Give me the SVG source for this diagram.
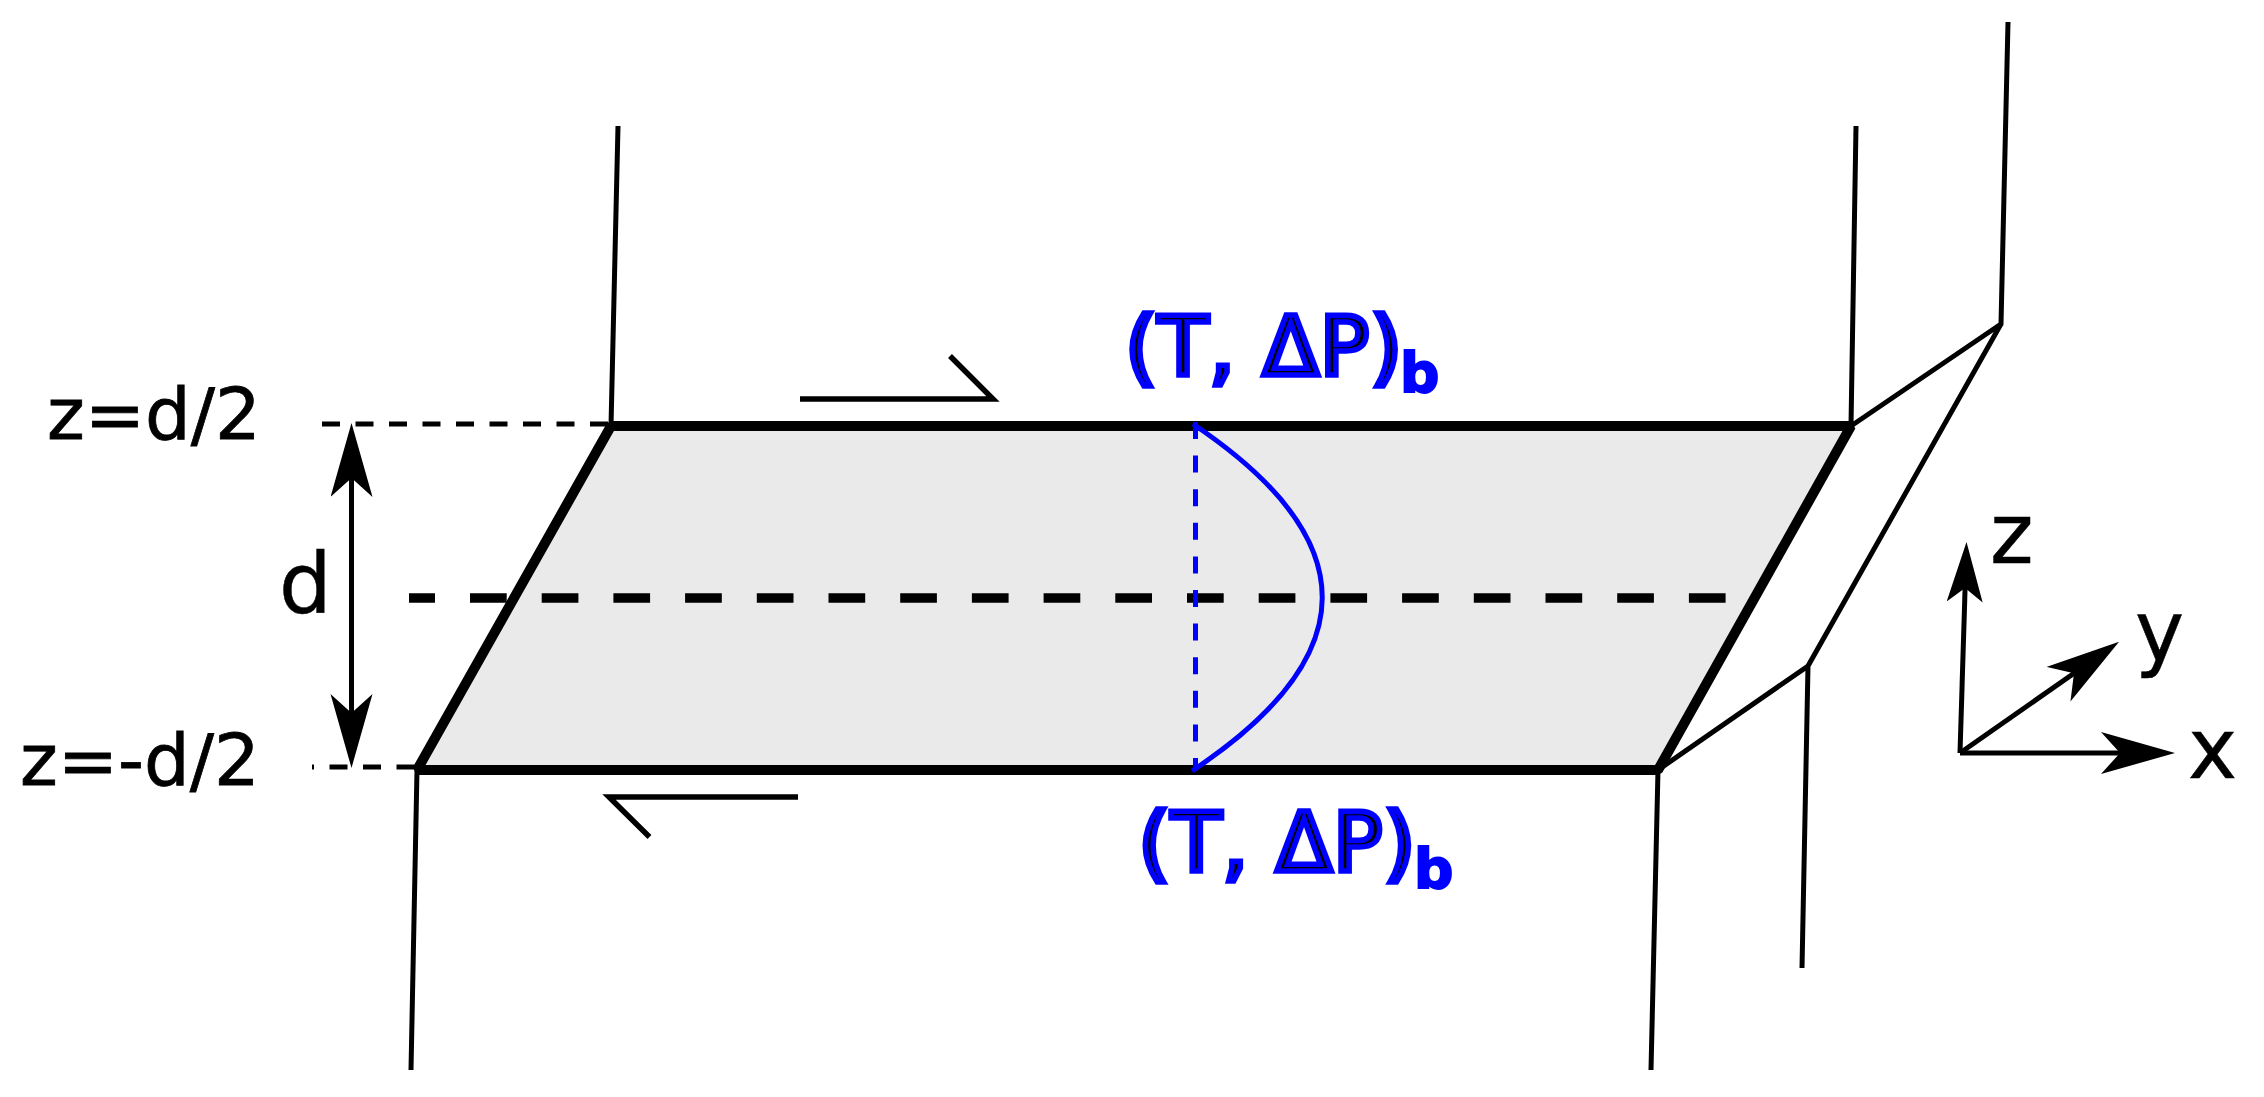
<svg xmlns="http://www.w3.org/2000/svg" width="2264" height="1097" viewBox="0 0 2264 1097">
<style>
text{font-family:"DejaVu Sans",sans-serif;fill:#000}
.lab{font-size:72px;stroke:#000;stroke-width:.8px}
.big{font-size:83px;stroke:#000;stroke-width:.5px}
.bl{font-size:82px;stroke:#00f;stroke-width:5.6px;letter-spacing:.9px}
.sub{font-size:55px;font-weight:bold;fill:#00f;stroke:#00f;stroke-width:2px}
.thin{fill:none;stroke:#000;stroke-width:5}
.half{fill:none;stroke:#000;stroke-width:5.5}
.thick{fill:none;stroke:#000;stroke-width:10;stroke-linejoin:bevel}
.dot{fill:none;stroke:#000;stroke-width:5;stroke-dasharray:18 15.5}
.blue{fill:none;stroke:#00f;stroke-width:5}
</style>
<defs>
<marker id="ah" markerUnits="userSpaceOnUse" markerWidth="80" markerHeight="50" refX="30" refY="21" orient="auto-start-reverse" viewBox="0 0 80 50"><path d="M74 21L0 0L19 21L0 42Z" fill="#000"/></marker>
<marker id="az" markerUnits="userSpaceOnUse" markerWidth="70" markerHeight="40" refX="24" refY="18" orient="auto" viewBox="0 0 70 40"><path d="M60 18L0 0L14 18L0 36Z" fill="#000"/></marker>
</defs>
<g id="plate">
<path d="M611 426H1851L1658 770H417Z" fill="#eaeaea"/>
</g>
<g id="connectors">
<path class="thin" d="M618 126L611 426M1856 126L1851 426M2008 22L2001 324L1851 426M2001 324L1808 666L1658 770M1808 666L1802 968M417 770L411 1070M1658 770L1651 1070"/>
<path class="thick" d="M611 426H1851L1658 770H417Z"/>
<path d="M409 598H1728" fill="none" stroke="#000" stroke-width="9.6" stroke-dasharray="36.7 35" stroke-dashoffset="10.7"/>
<path class="dot" d="M322 424H611"/>
<path class="dot" d="M312 767H417" stroke-dashoffset="16"/>
<path class="thin" d="M351.500 467V724" marker-start="url(#ah)" marker-end="url(#ah)"/>
<path class="half" d="M800 399H993L950 356M798 797H609L649.500 837"/>
<path class="blue" d="M1195.500 422V771" stroke-dasharray="17 16.600"/>
<path class="blue" d="M1193 424Q1452 598 1192 771"/>
<path class="thin" d="M1960 753L1965.400 578" marker-end="url(#az)"/>
<path class="thin" d="M1960 753L2083 667" marker-end="url(#ah)"/>
<path class="thin" d="M1960 753L2131 753" marker-end="url(#ah)"/>
</g>
<g id="labels">
<text class="lab" x="47" y="439">z=d/2</text>
<text class="lab" x="20" y="785">z=-d/2</text>
<text class="big" x="279" y="613">d</text>
<text class="big" x="1990" y="563">z</text>
<text class="big" x="2135" y="661">y</text>
<text class="big" x="2188" y="778">x</text>
<text class="bl" x="1125" y="375">(T, ΔP)</text>
<text class="sub" x="1400" y="392">b</text>
<text class="bl" x="1138.300" y="870.700">(T, ΔP)</text>
<text class="sub" x="1414" y="888">b</text>
</g>
</svg>
